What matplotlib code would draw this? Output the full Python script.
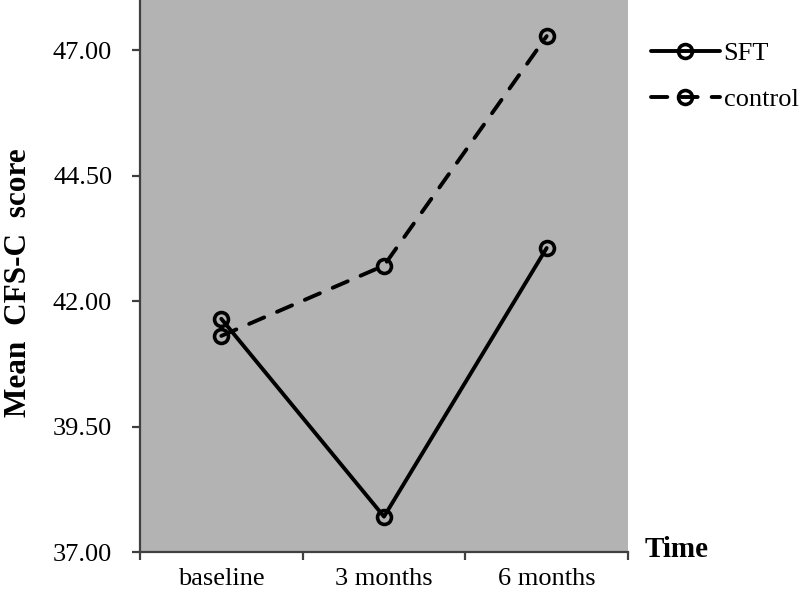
import matplotlib
matplotlib.use('Agg')
import matplotlib.pyplot as plt
from matplotlib.ticker import FormatStrFormatter, FixedLocator

plt.rcParams['font.family'] = ['Liberation Serif', 'DejaVu Serif']

# Datos
tiempos = ['baseline', '3 months', '6 months']
sft = [41.65, 37.71, 43.06]
control = [41.31, 42.71, 47.28]
y_ticks = [37.00, 39.50, 42.00, 44.50, 47.00]

fig = plt.figure(figsize=(8, 5.91), dpi=100)
ax = fig.add_axes([0.175, 0.0655, 0.61, 0.9345])
ax.set_facecolor('#b3b3b3')

x = list(range(len(tiempos)))
estilo = dict(color='black', lw=2.8, marker='o', markersize=10,
              markerfacecolor='none', markeredgecolor='black', markeredgewidth=2.6,
              solid_capstyle='round', dash_capstyle='round')
ax.plot(x, sft, ls='-', label='SFT', **estilo)
ax.plot(x, control, ls=(0, (4.2, 3.6)), label='control', **estilo)

ax.set_xlim(-0.5, 2.5)
ax.set_ylim(37, 48)
ax.set_yticks(y_ticks)
ax.yaxis.set_major_formatter(FormatStrFormatter('%.2f'))
ax.set_xticks(x)
ax.set_xticklabels(tiempos)
ax.xaxis.set_minor_locator(FixedLocator([-0.5, 0.5, 1.5, 2.5]))

for lado in ['top', 'right']:
    ax.spines[lado].set_visible(False)
for lado in ['left', 'bottom']:
    ax.spines[lado].set_color('#404040')
    ax.spines[lado].set_linewidth(1.6)

ax.tick_params(axis='y', which='major', length=6, width=1.6, color='#404040',
               labelsize=19, pad=14, direction='out')
ax.tick_params(axis='x', which='major', length=0, labelsize=19, pad=11)
ax.tick_params(axis='x', which='minor', length=6, width=1.6, color='#404040', direction='out')

fig.text(645 / 800, 1 - 557 / 591, 'Time', fontsize=21, fontweight='bold',
         ha='left', va='baseline')
fig.text(19 / 800, 1 - 283 / 591, 'Mean  CFS-C  score', fontsize=22.5, fontweight='bold',
         rotation=90, ha='center', va='center')

fig.legend(loc='upper left', bbox_to_anchor=(651 / 800, 1 - 42 / 591), frameon=False,
           fontsize=19, handlelength=2.6, handletextpad=0.15, labelspacing=0.85,
           borderaxespad=0, borderpad=0)

fig.savefig('out.png', dpi=100)
